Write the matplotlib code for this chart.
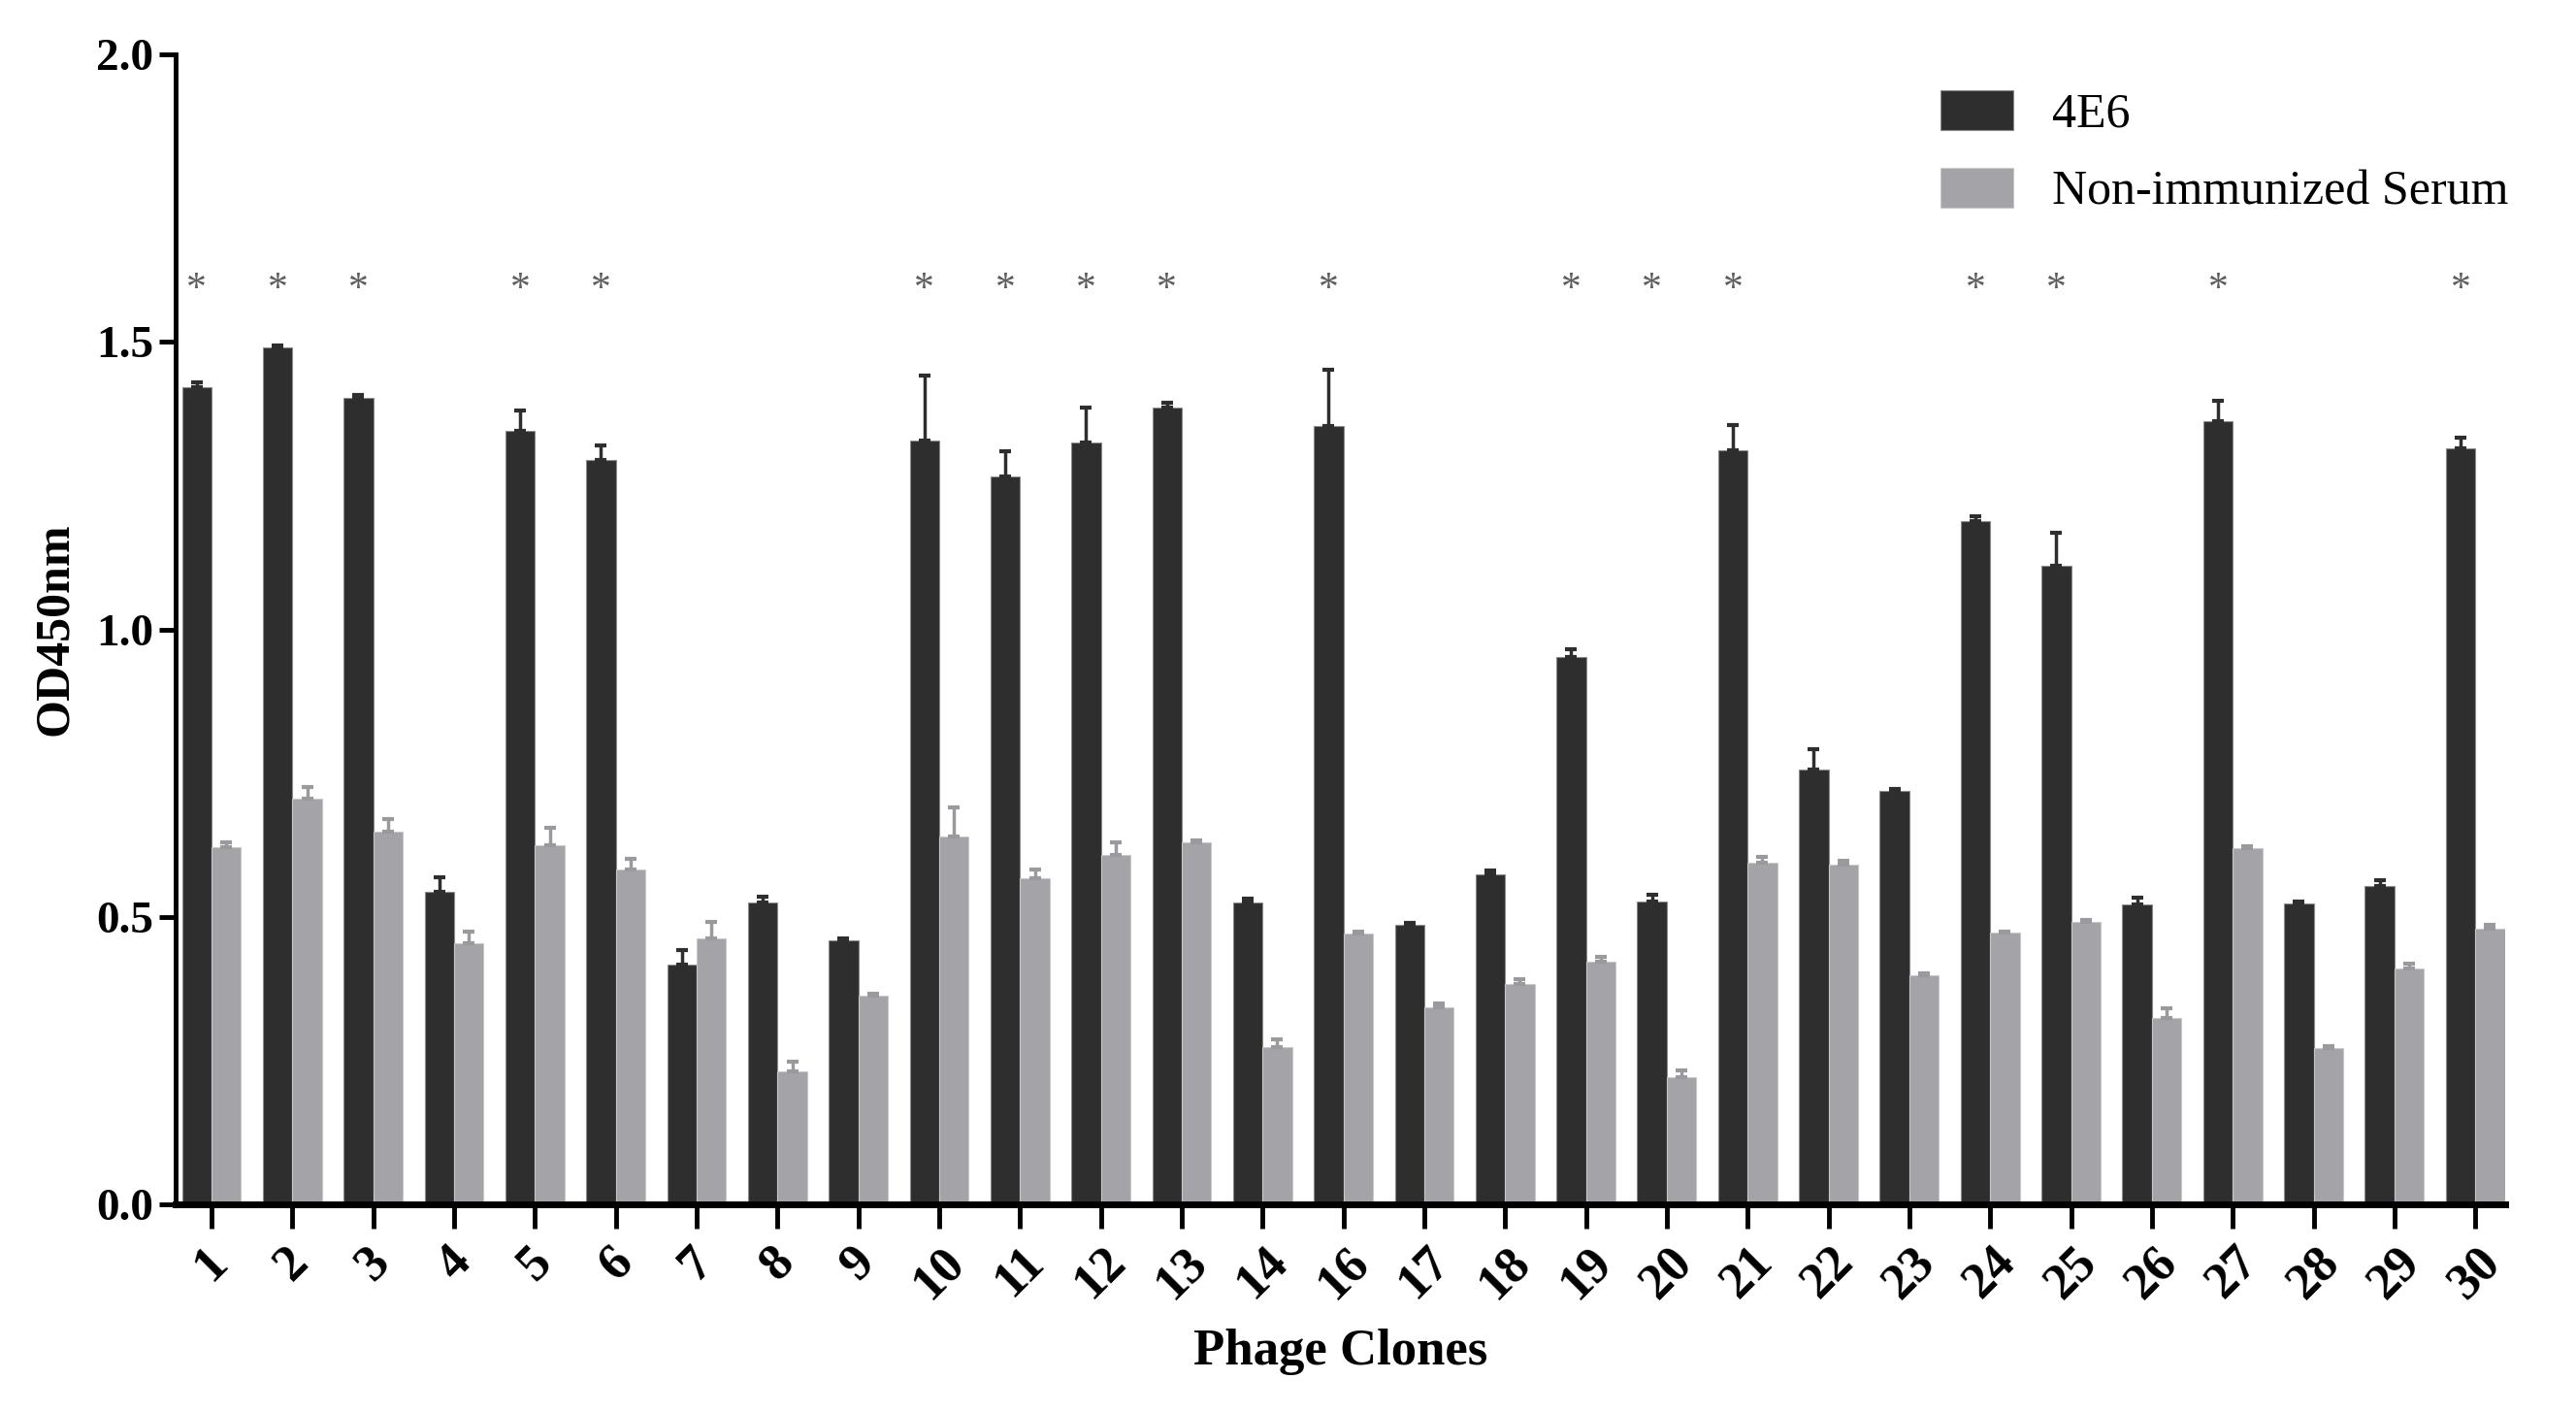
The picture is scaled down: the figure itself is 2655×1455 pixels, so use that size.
import numpy as np
import matplotlib
matplotlib.use('Agg')
import matplotlib.pyplot as plt

plt.rcParams['font.family'] = ['Liberation Serif', 'DejaVu Serif']

clones = ['1', '2', '3', '4', '5', '6', '7', '8', '9', '10', '11', '12', '13', '14',
          '16', '17', '18', '19', '20', '21', '22', '23', '24', '25', '26', '27', '28', '29', '30']

od_4e6 = [1.422, 1.490, 1.402, 0.543, 1.345, 1.294, 0.417, 0.525, 0.459, 1.328,
          1.266, 1.325, 1.385, 0.525, 1.353, 0.487, 0.574, 0.952, 0.526, 1.312,
          0.756, 0.719, 1.188, 1.111, 0.522, 1.362, 0.523, 0.554, 1.315]
err_4e6 = [0.008, 0.004, 0.006, 0.026, 0.036, 0.026, 0.026, 0.010, 0.003, 0.113,
           0.043, 0.060, 0.009, 0.007, 0.099, 0.003, 0.006, 0.013, 0.012, 0.043,
           0.035, 0.004, 0.008, 0.057, 0.012, 0.035, 0.004, 0.010, 0.019]

od_serum = [0.621, 0.706, 0.649, 0.455, 0.624, 0.582, 0.463, 0.231, 0.363, 0.640,
            0.567, 0.607, 0.629, 0.274, 0.471, 0.343, 0.383, 0.422, 0.221, 0.595,
            0.591, 0.398, 0.472, 0.492, 0.325, 0.620, 0.272, 0.411, 0.480]
err_serum = [0.009, 0.020, 0.021, 0.019, 0.031, 0.019, 0.029, 0.018, 0.003, 0.050,
             0.015, 0.023, 0.004, 0.013, 0.003, 0.007, 0.008, 0.009, 0.012, 0.009,
             0.006, 0.004, 0.003, 0.003, 0.016, 0.003, 0.004, 0.007, 0.006]

significant = ['1', '2', '3', '5', '6', '10', '11', '12', '13', '16', '19', '20', '21',
               '24', '25', '27', '30']
star_level = 1.59

dark = '#2e2e2e'
light = '#a4a4a8'

fig = plt.figure(figsize=(26.55, 14.55), dpi=100)
ax = fig.add_axes([0.068, 0.147, 0.9045, 0.8145])

x = np.arange(len(clones))
w = 0.365

ax.bar(x - w / 2, od_4e6, w, color=dark, edgecolor='#8a8a8a', linewidth=0.8,
       label='4E6', zorder=2)
ax.bar(x + w / 2, od_serum, w, color=light, edgecolor='#c8c8c8', linewidth=0.8,
       label='Non-immunized Serum', zorder=2)
ax.errorbar(x - w / 2, od_4e6, yerr=[np.zeros(len(x)), err_4e6], fmt='none',
            ecolor=dark, elinewidth=2.5, capsize=4, capthick=3, zorder=3)
ax.errorbar(x + w / 2, od_serum, yerr=[np.zeros(len(x)), err_serum], fmt='none',
            ecolor='#9a9a9e', elinewidth=2.5, capsize=4, capthick=3, zorder=3)

for i, c in enumerate(clones):
    if c in significant:
        ax.text(i - w / 2, star_level, '*', ha='center', va='center',
                fontsize=30, color='#5e5e5e')

ax.set_xlim(-0.45, len(clones) - 1 + 0.37)
ax.set_ylim(0, 2.0)
ax.set_yticks([0.0, 0.5, 1.0, 1.5, 2.0])
ax.set_yticklabels(['0.0', '0.5', '1.0', '1.5', '2.0'], fontsize=34, fontweight='bold')
ax.set_xticks(x)
ax.set_xticklabels(clones, rotation=45, ha='center', fontsize=38, fontweight='bold')

ax.spines['top'].set_visible(False)
ax.spines['right'].set_visible(False)
ax.spines['left'].set_linewidth(3.5)
ax.spines['bottom'].set_linewidth(5)
ax.tick_params(axis='y', length=12, width=3.5, pad=4)
ax.tick_params(axis='x', length=18, width=3.5, pad=7)

ax.set_ylabel('OD450nm', fontsize=36, fontweight='bold', labelpad=14)
ax.set_xlabel('Phage Clones', fontsize=38, fontweight='bold', labelpad=16)

ax.legend(loc='upper right', bbox_to_anchor=(1.02, 1.007), frameon=False, fontsize=36,
          handlelength=1.5, handleheight=0.9, handletextpad=0.8, labelspacing=0.62)

plt.savefig('out.png', dpi=100)
plt.close()
